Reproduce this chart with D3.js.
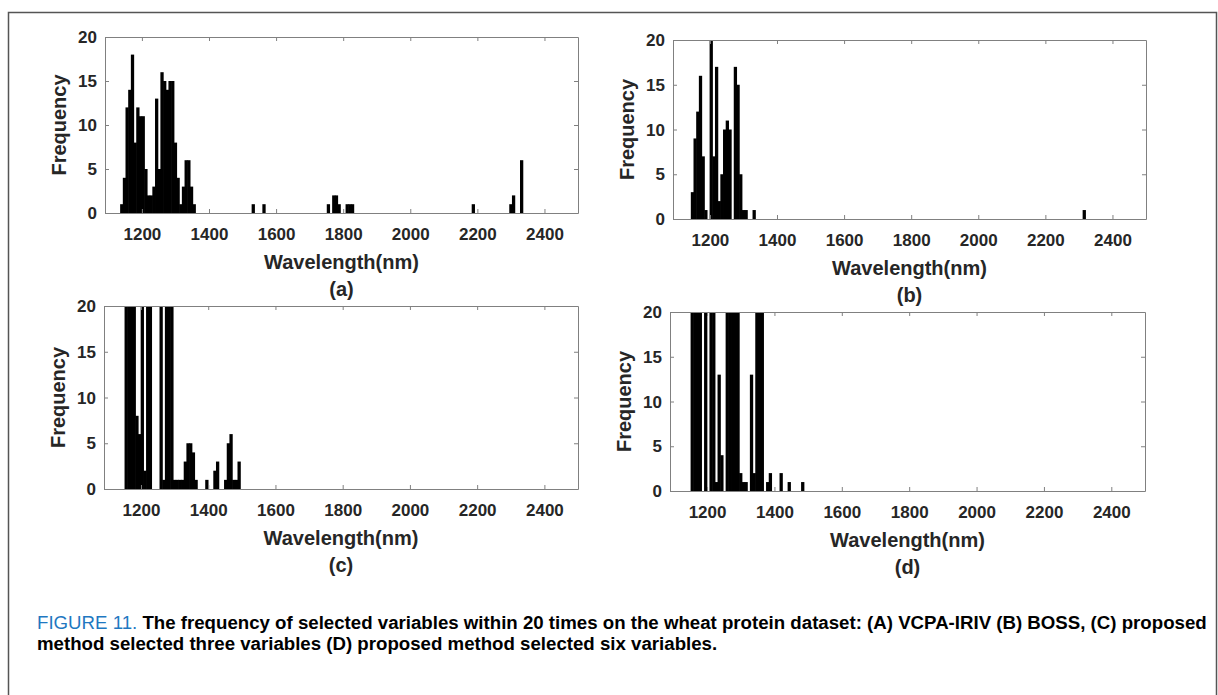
<!DOCTYPE html>
<html>
<head>
<meta charset="utf-8">
<script src="https://cdn.jsdelivr.net/npm/d3@7"></script>
<style>
  body { margin: 0; background: #fff; }
  svg { display: block; font-family: "Liberation Sans", Arial, sans-serif; }
</style>
</head>
<body>
<script>
// data (frequency of selected wavelengths, 8 nm bins)
var WAVE_A = [1136, 1144, 1152, 1160, 1168, 1176, 1184, 1192, 1200, 1208, 1216, 1224, 1232, 1240,
              1248, 1256, 1264, 1272, 1280, 1288, 1296, 1304, 1312, 1320, 1328, 1336, 1344, 1352,
              1528, 1560, 1752, 1768, 1776, 1784, 1808, 1816, 1824, 2184, 2296, 2304, 2328];
var FREQ_A = [1, 4, 12, 14, 18, 8, 12, 11, 11, 5, 2, 2, 3, 13,
              5, 16, 15, 14, 15, 15, 8, 4, 1, 3, 6, 6, 3, 1,
              1, 1, 1, 2, 2, 1, 1, 1, 1, 1, 1, 2, 6];

var WAVE_B = [1144, 1152, 1160, 1168, 1176, 1184, 1200, 1208, 1216, 1224, 1232, 1240, 1248, 1256,
              1272, 1280, 1288, 1296, 1304, 1328, 2312];
var FREQ_B = [3, 9, 12, 16, 7, 1, 20, 7, 17, 2, 5, 10, 11, 10,
              17, 15, 5, 1, 1, 1, 1];

var WAVE_C = [1152, 1160, 1168, 1176, 1184, 1192, 1200, 1208, 1216, 1224, 1256, 1264, 1272, 1280,
              1288, 1296, 1304, 1312, 1320, 1328, 1336, 1344, 1352, 1360, 1392, 1416, 1424, 1448,
              1456, 1464, 1472, 1480, 1488];
var FREQ_C = [20, 20, 20, 20, 8, 6, 20, 2, 20, 20, 20, 1, 20, 20,
              20, 1, 1, 1, 1, 3, 5, 5, 4, 1, 1, 2, 3, 1,
              5, 6, 1, 1, 3];

var WAVE_D = [1152, 1160, 1168, 1176, 1192, 1208, 1216, 1224, 1232, 1240, 1256, 1264, 1272, 1280,
              1288, 1296, 1304, 1312, 1328, 1336, 1344, 1352, 1360, 1376, 1384, 1416, 1440, 1480];
var FREQ_D = [20, 20, 20, 20, 20, 20, 20, 1, 13, 4, 20, 20, 20, 20,
              20, 2, 1, 1, 13, 2, 20, 20, 20, 1, 2, 2, 1, 1];

var BIN_WIDTH = 8;
var X_DOMAIN = [1090, 2500];
var Y_DOMAIN = [0, 20];
var X_TICKS = [1200, 1400, 1600, 1800, 2000, 2200, 2400];
var Y_TICKS = [0, 5, 10, 15, 20];
var X_TITLE = "Wavelength(nm)";
var Y_TITLE = "Frequency";
var TAGS = ["(a)", "(b)", "(c)", "(d)"];

var CAPTION_HEAD = "FIGURE 11. ";
var CAPTION_1 = "The frequency of selected variables within 20 times on the wheat protein dataset: (A) VCPA-IRIV (B) BOSS, (C) proposed";
var CAPTION_2 = "method selected three variables (D) proposed method selected six variables.";

// panel boxes in pixels
var PANELS = [
    {wave: WAVE_A, freq: FREQ_A, l: 105, r: 578, t: 37, b: 213},
    {wave: WAVE_B, freq: FREQ_B, l: 673, r: 1146, t: 40, b: 219},
    {wave: WAVE_C, freq: FREQ_C, l: 104, r: 578, t: 306, b: 489},
    {wave: WAVE_D, freq: FREQ_D, l: 670, r: 1145, t: 312, b: 491}
];

var svg = d3.select("body").append("svg")
    .attr("width", 1218)
    .attr("height", 695);

// outer frame
svg.append("path")
    .attr("d", "M8.5,760 V12.5 H1216.5 V760")
    .attr("fill", "none")
    .attr("stroke", "#555")
    .attr("stroke-width", 1.5);

PANELS.forEach(function (p, i) {
    var xScale = d3.scaleLinear().domain(X_DOMAIN).range([p.l, p.r]);
    var yScale = d3.scaleLinear().domain(Y_DOMAIN).range([p.b, p.t]);
    var g = svg.append("g");

    // bars (a little overlap so neighbours merge like the original)
    g.selectAll("rect.bar")
        .data(p.wave.map(function (w, k) { return [w, p.freq[k]]; }))
        .enter().append("rect")
        .attr("class", "bar")
        .attr("x", function (d) { return xScale(d[0]) - 0.3; })
        .attr("width", function (d) { return xScale(d[0] + BIN_WIDTH) - xScale(d[0]) + 0.6; })
        .attr("y", function (d) { return yScale(d[1]); })
        .attr("height", function (d) { return yScale(0) - yScale(d[1]); })
        .attr("fill", "#000");

    // axes, ticks pointing inward (matlab style)
    var bottom = g.append("g").attr("transform", "translate(0," + p.b + ")")
        .call(d3.axisBottom(xScale).tickValues(X_TICKS).tickFormat(d3.format("d"))
            .tickSizeInner(-4).tickSizeOuter(0));
    var top = g.append("g").attr("transform", "translate(0," + p.t + ")")
        .call(d3.axisTop(xScale).tickValues(X_TICKS).tickSizeInner(-4).tickSizeOuter(0).tickFormat(""));
    var left = g.append("g").attr("transform", "translate(" + p.l + ",0)")
        .call(d3.axisLeft(yScale).tickValues(Y_TICKS).tickSizeInner(-4).tickSizeOuter(0).tickPadding(8));
    var right = g.append("g").attr("transform", "translate(" + p.r + ",0)")
        .call(d3.axisRight(yScale).tickValues(Y_TICKS).tickSizeInner(-4).tickSizeOuter(0).tickFormat(""));

    [bottom, top, left, right].forEach(function (a) {
        a.select(".domain").attr("stroke", "#808080");
        a.selectAll(".tick line").attr("stroke", "#808080");
        a.selectAll(".tick text")
            .attr("fill", "#262626")
            .attr("font-size", 17)
            .attr("font-weight", "bold")
            .attr("font-family", "Liberation Sans, Arial, sans-serif");
    });
    bottom.selectAll(".tick text").attr("dy", null).attr("y", 21).attr("dominant-baseline", "central");
    left.selectAll(".tick text").attr("dy", null).attr("dominant-baseline", "central");

    var cx = (p.l + p.r) / 2;
    g.append("text")
        .attr("x", cx)
        .attr("y", p.b + 49)
        .attr("text-anchor", "middle")
        .attr("dominant-baseline", "central")
        .attr("font-size", 20).attr("font-weight", "bold").attr("fill", "#262626")
        .text(X_TITLE);
    g.append("text")
        .attr("x", cx)
        .attr("y", p.b + 76)
        .attr("text-anchor", "middle")
        .attr("dominant-baseline", "central")
        .attr("font-size", 20).attr("font-weight", "bold").attr("fill", "#262626")
        .text(TAGS[i]);
    g.append("text")
        .attr("transform", "translate(" + (p.l - 46) + "," + ((p.t + p.b) / 2) + ") rotate(-90)")
        .attr("text-anchor", "middle")
        .attr("dominant-baseline", "central")
        .attr("font-size", 20).attr("font-weight", "bold").attr("fill", "#262626")
        .text(Y_TITLE);
});

// caption, sized so the first line runs to the right edge like the original
var cap1 = svg.append("text")
    .attr("x", 37).attr("y", 629)
    .attr("font-size", 16);
cap1.append("tspan").attr("fill", "#1f78c1").text(CAPTION_HEAD);
cap1.append("tspan").attr("fill", "#000").attr("font-weight", "bold").text(CAPTION_1);
var cap2 = svg.append("text")
    .attr("x", 37).attr("y", 650)
    .attr("font-size", 16).attr("font-weight", "bold").attr("fill", "#000")
    .text(CAPTION_2);

var w1 = cap1.node().getComputedTextLength();
var fs = 16 * 1171 / w1;
cap1.attr("font-size", fs);
cap2.attr("font-size", fs);
</script>
</body>
</html>
